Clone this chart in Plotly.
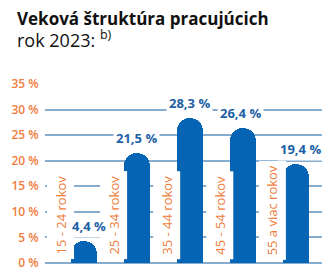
import plotly.graph_objects as go

categories = ["15 - 24 rokov", "25 - 34 rokov", "35 - 44 rokov", "45 - 54 rokov", "55 a viac rokov"]
values = [4.4, 21.5, 28.3, 26.4, 19.4]
value_labels = ["4,4 %", "21,5 %", "28,3 %", "26,4 %", "19,4 %"]
tick_values = [0, 5, 10, 15, 20, 25, 30, 35]
tick_labels = ["0 %", "5 %", "10 %", "15 %", "20 %", "25 %", "30 %", "35 %"]
title_line1 = "Veková štruktúra pracujúcich"
title_line2 = "rok 2023: <sup>b)</sup>"

BLUE = "#0564b4"
LABEL_BLUE = "#1d5fa6"
ORANGE = "#f07d3c"
GRID = "#86acd0"
FONT = "Open Sans"

W, H = 325, 274
ML, MR, MT, MB = 45, 3, 84, 9
PW, PH = W - ML - MR, H - MT - MB


def px_to_paper_x(px):
    return (px - ML) / PW


def px_to_paper_y(py):
    return (H - MB - py) / PH


x_pos = list(range(len(categories)))

fig = go.Figure()
fig.add_trace(go.Bar(
    x=x_pos, y=values, width=0.49,
    marker=dict(color=BLUE, cornerradius=13, line=dict(width=0)),
    hoverinfo="skip",
))

annotations = []
for i in range(len(categories)):
    annotations.append(dict(
        x=i - 0.445, y=0, xref="x", yref="y", text=categories[i], showarrow=False,
        textangle=-90, xanchor="center", yanchor="bottom", yshift=3,
        font=dict(family=FONT, size=13, color=ORANGE),
        bgcolor="white", borderpad=4,
    ))

label_xshift = [5, 0, 0, -2, 5]
for i, (v, t) in enumerate(zip(values, value_labels)):
    annotations.append(dict(
        x=i, y=v, xref="x", yref="y", text=f"<b>{t}</b>", showarrow=False,
        xanchor="center", yanchor="bottom", yshift=3, xshift=label_xshift[i],
        font=dict(family=FONT, size=13, color=LABEL_BLUE),
        bgcolor="white", borderpad=2,
    ))

annotations.append(dict(
    x=px_to_paper_x(15), y=px_to_paper_y(18), xref="paper", yref="paper",
    text=f"<b>{title_line1}</b>", showarrow=False, xanchor="left", yanchor="middle",
    font=dict(family=FONT, size=17, color="#111111"),
))
annotations.append(dict(
    x=px_to_paper_x(15), y=px_to_paper_y(39), xref="paper", yref="paper",
    text=title_line2, showarrow=False, xanchor="left", yanchor="middle",
    font=dict(family=FONT, size=18, color="#111111"),
))

fig.update_layout(
    width=W, height=H,
    margin=dict(l=ML, r=MR, t=MT, b=MB),
    paper_bgcolor="white", plot_bgcolor="white",
    showlegend=False,
    bargap=0,
    xaxis=dict(range=[-0.728, 4.49], showgrid=False, zeroline=False,
               showticklabels=False, fixedrange=True),
    yaxis=dict(range=[0, 35], tickvals=tick_values, ticktext=tick_labels,
               showgrid=True, gridcolor=GRID, gridwidth=1.5,
               zeroline=True, zerolinecolor=GRID, zerolinewidth=2,
               ticks="outside", ticklen=3, tickcolor="rgba(0,0,0,0)",
               tickfont=dict(family=FONT, size=12, color=ORANGE, weight=600),
               fixedrange=True),
    annotations=annotations,
)

fig.write_html("out.html")
